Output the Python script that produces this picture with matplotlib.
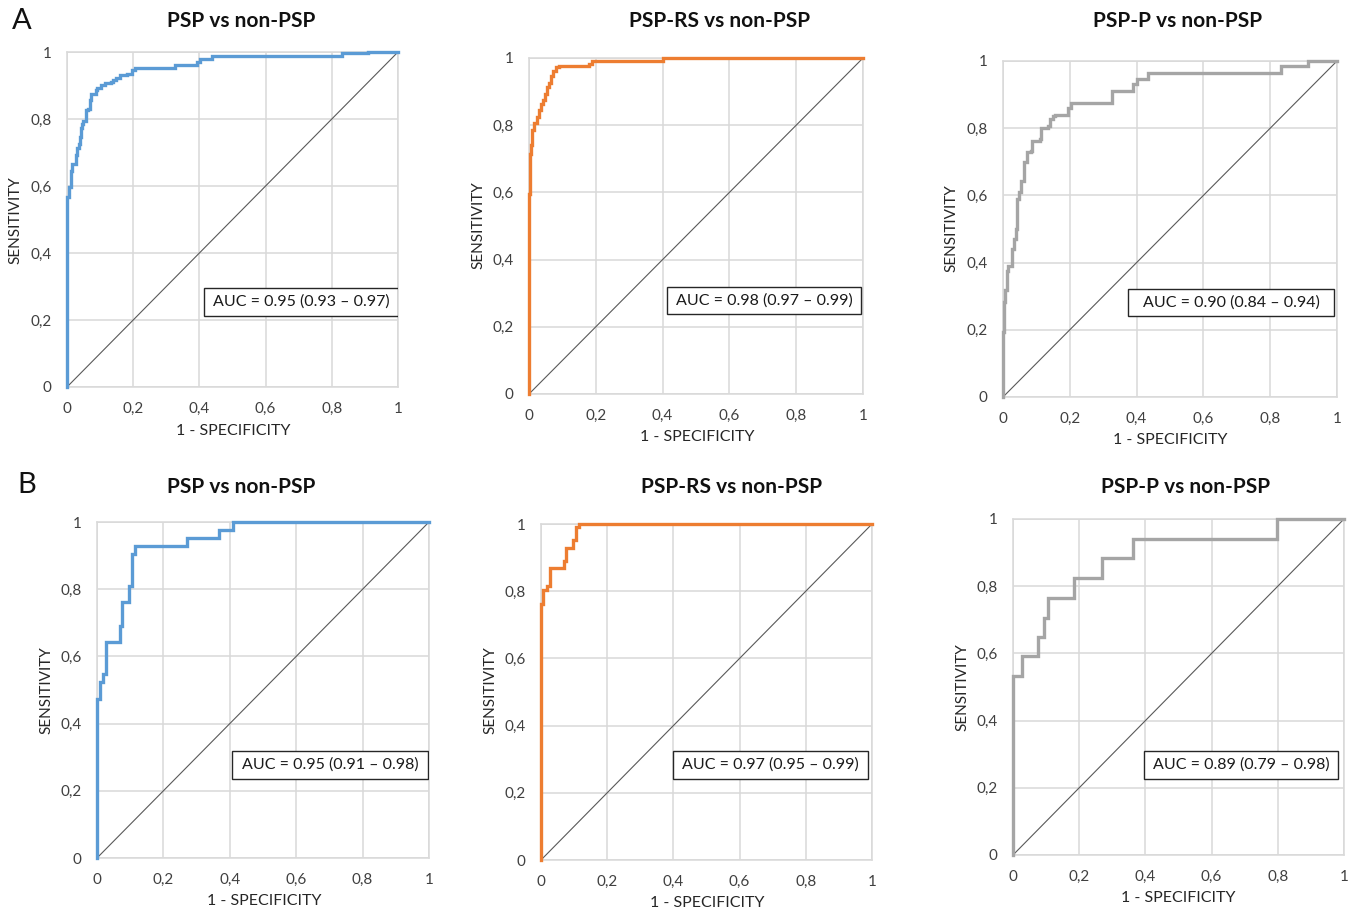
import matplotlib
matplotlib.use("Agg")
import matplotlib.pyplot as plt
from matplotlib.patches import Rectangle

plt.rcParams['font.family'] = ['Lato', 'DejaVu Sans']

# ---------------- data (ROC corner points, steps-post) ----------------
a1_fpr = [0, 0, 0.005, 0.013, 0.015, 0.026, 0.030, 0.036, 0.040, 0.043, 0.046, 0.049, 0.057, 0.062,
          0.069, 0.074, 0.087, 0.091, 0.104, 0.114, 0.134, 0.139, 0.149, 0.160, 0.180, 0.195,
          0.205, 0.326, 0.392, 0.402, 0.437, 0.830, 0.910, 1.0]
a1_tpr = [0, 0.568, 0.597, 0.645, 0.665, 0.692, 0.712, 0.725, 0.745, 0.774, 0.786, 0.794, 0.826, 0.831,
          0.856, 0.874, 0.888, 0.893, 0.901, 0.906, 0.911, 0.916, 0.922, 0.930, 0.935, 0.945,
          0.952, 0.962, 0.970, 0.980, 0.989, 0.996, 1.0, 1.0]

a2_fpr = [0, 0, 0.003, 0.006, 0.010, 0.015, 0.025, 0.030, 0.037, 0.043, 0.048, 0.055, 0.060,
          0.065, 0.072, 0.080, 0.090, 0.180, 0.190, 0.402, 1.0]
a2_tpr = [0, 0.594, 0.715, 0.740, 0.787, 0.807, 0.824, 0.844, 0.863, 0.875, 0.893, 0.915, 0.926,
          0.947, 0.962, 0.972, 0.975, 0.982, 0.990, 1.0, 1.0]

a3_fpr = [0, 0, 0.002, 0.005, 0.012, 0.015, 0.027, 0.032, 0.040, 0.041, 0.042, 0.047, 0.055, 0.062,
          0.072, 0.085, 0.088, 0.110, 0.115, 0.135, 0.140, 0.150, 0.155, 0.195, 0.203, 0.325,
          0.327, 0.390, 0.400, 0.435, 0.831, 0.912, 1.0]
a3_tpr = [0, 0.193, 0.282, 0.317, 0.376, 0.391, 0.441, 0.470, 0.500, 0.540, 0.589, 0.609, 0.644, 0.698,
          0.728, 0.733, 0.762, 0.769, 0.802, 0.807, 0.827, 0.837, 0.840, 0.861, 0.874, 0.896,
          0.911, 0.931, 0.946, 0.963, 0.985, 1.0, 1.0]

b1_fpr = [0, 0, 0.008, 0.017, 0.027, 0.068, 0.076, 0.096, 0.104, 0.114, 0.270, 0.366, 0.411, 1.0]
b1_tpr = [0, 0.474, 0.524, 0.548, 0.643, 0.690, 0.763, 0.810, 0.905, 0.930, 0.953, 0.976, 1.0, 1.0]

b2_fpr = [0, 0, 0.007, 0.017, 0.026, 0.069, 0.077, 0.098, 0.106, 0.115, 1.0]
b2_tpr = [0, 0.763, 0.803, 0.815, 0.868, 0.890, 0.928, 0.953, 0.990, 1.0, 1.0]

b3_fpr = [0, 0, 0.027, 0.075, 0.095, 0.105, 0.183, 0.269, 0.364, 0.799, 1.0]
b3_tpr = [0, 0.532, 0.592, 0.649, 0.706, 0.766, 0.824, 0.884, 0.940, 1.0, 1.0]

titles = ["PSP vs non-PSP", "PSP-RS vs non-PSP", "PSP-P vs non-PSP",
          "PSP vs non-PSP", "PSP-RS vs non-PSP", "PSP-P vs non-PSP"]
auc_labels = ["AUC = 0.95 (0.93 \u2013 0.97)", "AUC = 0.98 (0.97 \u2013 0.99)",
              "AUC = 0.90 (0.84 \u2013 0.94)", "AUC = 0.95 (0.91 \u2013 0.98)",
              "AUC = 0.97 (0.95 \u2013 0.99)", "AUC = 0.89 (0.79 \u2013 0.98)"]
tick_vals = [0, 0.2, 0.4, 0.6, 0.8, 1]
tick_labels = ["0", "0,2", "0,4", "0,6", "0,8", "1"]
colors = ["#5B9BD5", "#ED7D31", "#A5A5A5", "#5B9BD5", "#ED7D31", "#A5A5A5"]
curves = [(a1_fpr, a1_tpr), (a2_fpr, a2_tpr), (a3_fpr, a3_tpr),
          (b1_fpr, b1_tpr), (b2_fpr, b2_tpr), (b3_fpr, b3_tpr)]

# ---------------- layout (pixels) ----------------
W, H = 1360, 914
# axes: x0, x1, y0(bottom px), y1(top px)
axes_px = [(67, 398, 387, 52), (529, 863, 394, 58), (1003, 1337, 397, 61),
           (97, 429, 858, 522), (541, 872, 860, 524), (1013, 1344, 855, 519)]
title_px = [(241, 21), (720, 21), (1178, 21), (241, 487), (732, 487), (1186, 487)]
ylab_px = [(15, 220), (478, 225), (951, 228), (46, 690), (490, 690), (962, 687)]
xlab_px = [(233, 431), (697, 437), (1170, 440), (264, 901), (707, 903), (1178, 898)]
box_px = [(204, 398, 288, 316), (667, 861, 287, 314), (1128, 1334, 289, 316),
          (232, 428, 751, 779), (673, 868, 751, 779), (1144, 1338, 751, 779)]

fig = plt.figure(figsize=(W / 100, H / 100), dpi=100)

def fx(px):
    return px / W

def fy(py):
    return 1 - py / H

for i in range(6):
    x0, x1, yb, yt = axes_px[i]
    ax = fig.add_axes([fx(x0), fy(yb), (x1 - x0) / W, (yb - yt) / H])
    ax.set_xlim(0, 1)
    ax.set_ylim(0, 1)
    ax.set_xticks(tick_vals)
    ax.set_xticklabels(tick_labels)
    ax.set_yticks(tick_vals)
    ax.set_yticklabels(tick_labels)
    ax.tick_params(length=0, labelsize=11, colors="#404040", pad=11)
    ax.tick_params(axis='y', pad=11)
    ax.grid(True, color="#D9D9D9", lw=1.1)
    ax.set_axisbelow(True)
    for s in ax.spines.values():
        s.set_color("#D9D9D9")
        s.set_linewidth(1.1)
    ax.plot([0, 1], [0, 1], color="#595959", lw=0.8, zorder=3)
    fpr, tpr = curves[i]
    ax.plot(fpr, tpr, drawstyle="steps-post", color=colors[i], lw=2.4,
            zorder=4, clip_on=False, solid_joinstyle="miter")
    # AUC box
    bx0, bx1, by0, by1 = box_px[i]
    rx0 = (bx0 - x0) / (x1 - x0)
    rx1 = (bx1 - x0) / (x1 - x0)
    ry0 = (yb - by1) / (yb - yt)
    ry1 = (yb - by0) / (yb - yt)
    ax.add_patch(Rectangle((rx0, ry0), rx1 - rx0, ry1 - ry0, transform=ax.transAxes,
                           facecolor="white", edgecolor="#262626", lw=1.0, zorder=5))
    ax.text((rx0 + rx1) / 2, (ry0 + ry1) / 2, auc_labels[i], transform=ax.transAxes,
            ha="center", va="center", fontsize=11.5, color="#1a1a1a", zorder=6)
    # titles and labels
    tx, ty = title_px[i]
    fig.text(fx(tx), fy(ty), titles[i], ha="center", va="center",
             fontsize=15, fontweight="bold", color="#111111")
    lx, ly = ylab_px[i]
    fig.text(fx(lx), fy(ly), "SENSITIVITY", ha="center", va="center",
             rotation=90, fontsize=11, color="#262626")
    sx, sy = xlab_px[i]
    fig.text(fx(sx), fy(sy), "1 - SPECIFICITY", ha="center", va="center",
             fontsize=11.5, color="#262626")

fig.text(fx(22), fy(21), "A", ha="center", va="center", fontsize=21, color="#111111")
fig.text(fx(27), fy(485), "B", ha="center", va="center", fontsize=21, color="#111111")

fig.savefig("out.png", dpi=100, facecolor="white")
